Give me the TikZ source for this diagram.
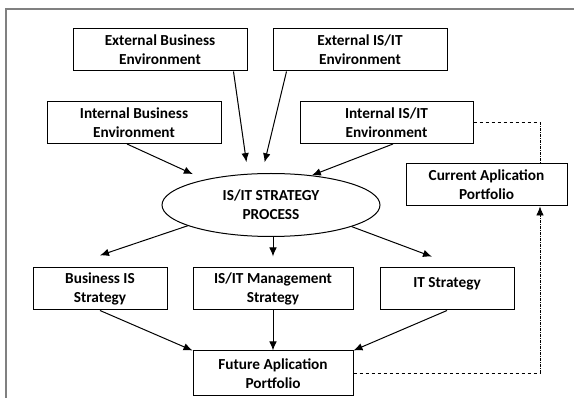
\documentclass[tikz,border=0pt]{standalone}
\usepackage{fontspec}
\setmainfont{Carlito}
\usetikzlibrary{shapes.geometric,arrows.meta}

\tikzset{
  box/.style={draw, rectangle, align=center, minimum height=42pt, inner sep=2pt},
  process/.style={draw, ellipse, align=center, minimum width=218pt, minimum height=63pt, inner sep=0pt},
  link/.style={dashed, line width=0.7pt},
  uplink/.style={densely dashdotted, line width=0.7pt}
}

\begin{document}
\begin{tikzpicture}[x=1pt,y=-1pt,line width=1pt,
    font=\bfseries\fontsize{15.3}{19}\selectfont,
    >={Latex[length=9pt,width=7.5pt]}]
        \useasboundingbox (0,0) rectangle (574,398);
        % outer frame
        \draw[black!50, line width=1.4pt] (6,398) -- (6,9) -- (574,9);

        % inputs
        \node[box, minimum width=174pt] (extbus) at (160,50) {External Business\\Environment};
        \node[box, minimum width=174pt] (extit) at (360,50) {External IS/IT\\Environment};
        \node[box, minimum width=174pt] (intbus) at (134,122.5) {Internal Business\\Environment};
        \node[box, minimum width=173pt] (intit) at (386.5,122.5) {Internal IS/IT\\Environment};
        \node[box, minimum width=161pt] (current) at (486.5,185) {Current Aplication\\Portfolio};

        \node[process] (proc) at (271,205) {IS/IT STRATEGY\\PROCESS};

        % strategies
        \node[box, minimum width=134pt] (bisst) at (100,289) {Business IS\\Strategy};
        \node[box, minimum width=160pt] (mgmt) at (273,289) {IS/IT Management\\Strategy};
        \node[box, minimum width=134pt, text depth=14pt] (itst) at (447,289) {IT Strategy};
        \node[box, minimum width=160pt, minimum height=45pt] (future) at (273,373.5) {Future Aplication\\Portfolio};

        \coordinate (rail) at (540,0);

        % into the process
        \draw[->, shorten >=11pt] ([xshift=-14pt]extbus.south east) -- ([xshift=-23pt]proc.north);
        \draw[->, shorten >=11pt] ([xshift=14pt]extit.south west) -- ([xshift=-9pt]proc.north);
        \draw[->, shorten >=13pt] ([xshift=-7pt]intbus.south) -- (proc.159);
        \draw[->] ([xshift=6.5pt]intit.south) -- (proc.36);

        % out of the process
        \draw[->, shorten >=38pt] (proc.194) -- ([xshift=-36pt]bisst.north);
        \draw[->, shorten >=11pt] (proc.south -| mgmt.north) -- (mgmt.north);
        \draw[->, shorten >=31pt] (proc.-15) -- ([xshift=14pt]itst.north);

        % into the future portfolio
        \draw[->] (bisst.south) -- (future.north west);
        \draw[->] (mgmt.south) -- (future.north);
        \draw[->] (itst.south) -- (future.north east);

        % feedback loop
        \draw[link] (intit.east) -- (intit.east -| rail);
        \draw[uplink] (intit.east -| rail) -- (current.north -| rail);
        \draw[link] (future.east) -- (future.east -| rail);
        \draw[uplink, ->] (future.east -| rail) -- (current.south -| rail);
    \end{tikzpicture}
\end{document}
